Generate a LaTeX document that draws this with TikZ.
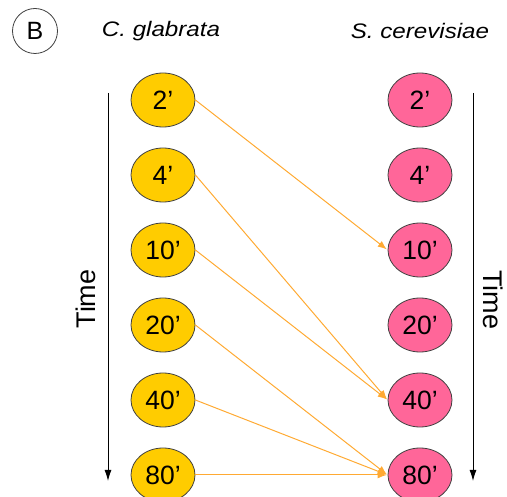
\documentclass[tikz,border=0pt]{standalone}
\usepackage{fontspec}
\setmainfont{Liberation Sans}
\usetikzlibrary{arrows.meta,shapes.geometric}
\definecolor{cgY}{HTML}{FFCC00}
\definecolor{scP}{HTML}{FF6699}
\definecolor{arrO}{HTML}{FFAA33}
\definecolor{rim}{HTML}{404040}
\tikzset{
  tp/.style={ellipse, draw=rim, line width=0.8pt, minimum width=64pt, minimum height=54pt, inner sep=0pt, font=\fontsize{26.5}{26.5}\selectfont},
  cg/.style={tp, fill=cgY},
  sc/.style={tp, fill=scP},
  link/.style={draw=arrO, line width=1pt, -{Latex[length=9pt,width=7pt]}, shorten >=1pt},
  timeax/.style={line width=0.9pt, -{Latex[length=11pt,width=7pt]}},
  ttl/.style={font=\fontsize{21}{21}\selectfont\itshape},
}
\begin{document}
\begin{tikzpicture}[x=1pt,y=-1pt]
\useasboundingbox (0,0) rectangle (507,497);
\node[circle, draw=rim, line width=0.8pt, minimum size=45pt, inner sep=0pt, font=\fontsize{25}{25}\selectfont] (B) at (35,31) {B};
\node[ttl] (tcg) at (161,31) {\scalebox{1.15}[1]{C. glabrata}};
\node[ttl] (tsc) at (420,31) {\scalebox{1.15}[1]{S. cerevisiae}};
\foreach \n/\t/\y in {a/2/100, b/4/175, c/10/250, d/20/325, e/40/400, f/80/475}{
  \node[cg] (L\n) at (163,\y) {\t'};
  \node[sc] (R\n) at (420,\y) {\t'};
}
\coordinate (lt) at (108,93);
\coordinate (lb) at (108,481);
\coordinate (rt) at (473,93);
\coordinate (rb) at (473,481);
\draw[timeax] (lt) -- (lb);
\draw[timeax] (rt) -- (rb);
\node[rotate=90, font=\fontsize{27}{27}\selectfont] (tl) at (86,299) {Time};
\node[rotate=-90, font=\fontsize{27}{27}\selectfont] (tr) at (493,300) {Time};
\draw[link] (La.east) -- (Rc.west);
\draw[link] (Lb.east) -- (Re.west);
\draw[link] (Lc.east) -- (Re.west);
\draw[link] (Ld.east) -- (Rf.west);
\draw[link] (Le.east) -- (Rf.west);
\draw[link] (Lf.east) -- (Rf.west);
\end{tikzpicture}
\end{document}
